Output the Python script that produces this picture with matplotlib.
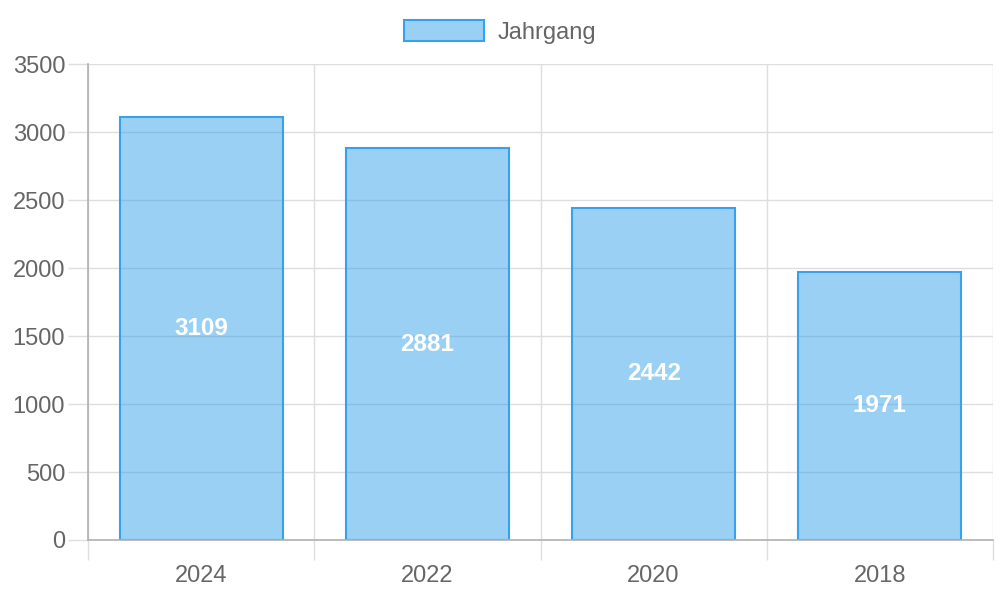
import matplotlib.pyplot as plt
from matplotlib.patches import Patch

# Daten
jahre = ["2024", "2022", "2020", "2018"]
werte = [3109, 2881, 2442, 1971]
y_ticks = [0, 500, 1000, 1500, 2000, 2500, 3000, 3500]

blau = (54 / 255, 162 / 255, 235 / 255)
blau_fill = (54 / 255, 162 / 255, 235 / 255, 0.5)
grau_text = "#666666"
grid_hell = "#dedede"
grid_dunkel = "#b0b0b0"

plt.rcParams["font.family"] = ["Liberation Sans", "DejaVu Sans"]

fig = plt.figure(figsize=(10, 6), dpi=100)
ax = fig.add_axes([0.088, 0.1, 0.905, 0.7933])

x = list(range(len(jahre)))
ax.bar(x, werte, width=0.72, color=blau_fill, edgecolor=blau, linewidth=1.5, zorder=2)

# Werte in die Balken schreiben
for xi, v in zip(x, werte):
    ax.text(xi, v / 2, str(v), ha="center", va="center", color="white",
            fontsize=17.5, fontweight="bold", zorder=3)

ax.set_xlim(-0.5, len(jahre) - 0.5)
ax.set_ylim(0, 3500)

# x-Achse: Beschriftung in der Mitte, Gitter an den Grenzen
ax.set_xticks(x)
ax.set_xticklabels(jahre)
ax.set_xticks([i - 0.5 for i in range(len(jahre) + 1)], minor=True)
ax.tick_params(axis="x", which="major", length=0, pad=18, labelsize=17, labelcolor=grau_text)
ax.tick_params(axis="x", which="minor", length=14.4, width=1, color=grid_hell)
ax.xaxis.grid(True, which="minor", color=grid_hell, linewidth=1)

# y-Achse
ax.set_yticks(y_ticks)
ax.tick_params(axis="y", length=14.4, width=1, color=grid_hell, pad=2,
               labelsize=17, labelcolor=grau_text)
ax.yaxis.grid(True, color=grid_hell, linewidth=1)

# Nulllinie / linke Achse etwas dunkler
ax.xaxis.get_minor_ticks()[0].tick1line.set_color(grid_dunkel)
ax.yaxis.get_major_ticks()[0].tick1line.set_color(grid_dunkel)

for s in ["top", "right"]:
    ax.spines[s].set_visible(False)
for s in ["left", "bottom"]:
    ax.spines[s].set_color(grid_dunkel)
    ax.spines[s].set_linewidth(1.2)
ax.set_axisbelow(True)

# Legende oben
handle = Patch(facecolor=blau_fill, edgecolor=blau, linewidth=1.5, label="Jahrgang")
leg = fig.legend(handles=[handle], loc="center", bbox_to_anchor=(0.5, 0.947),
                 frameon=False, fontsize=17, handlelength=3.4, handleheight=1.0,
                 handletextpad=0.55, borderaxespad=0)
for t in leg.get_texts():
    t.set_color(grau_text)

fig.savefig("out.png", dpi=100)
